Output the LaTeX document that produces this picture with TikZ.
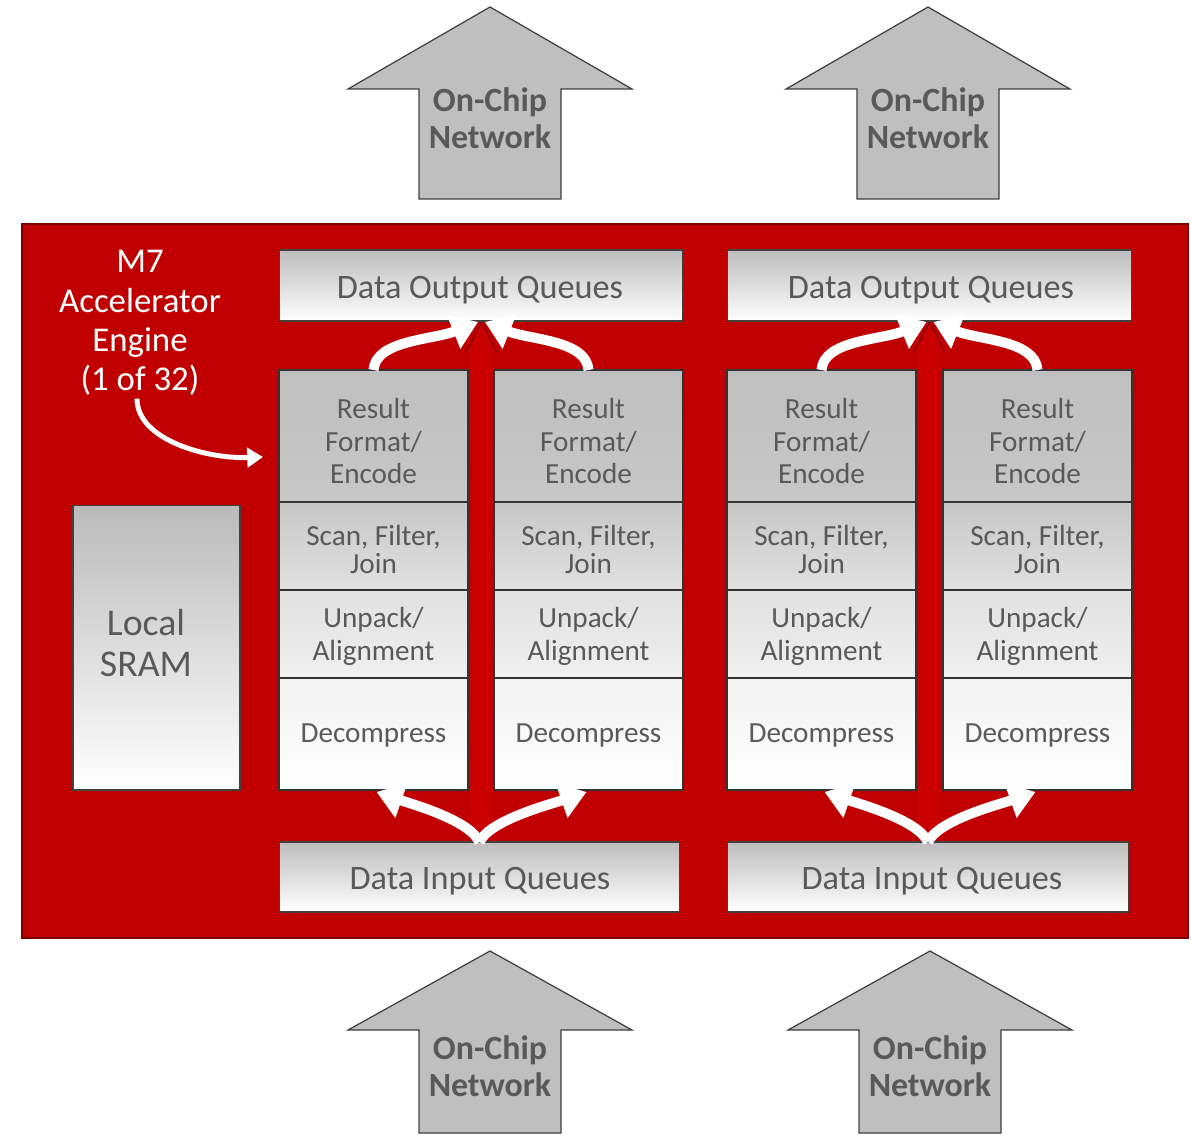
\documentclass[tikz,border=0pt]{standalone}
\usepackage{fontspec}
\setmainfont{Carlito}
\usetikzlibrary{arrows.meta,calc}
\definecolor{enginered}{HTML}{C00000}
\definecolor{engineedge}{HTML}{7A0000}
\definecolor{pathred}{HTML}{CA0000}
\definecolor{pathedge}{HTML}{8A0000}
\definecolor{labelgray}{HTML}{595959}
\definecolor{netgray}{HTML}{BFBFBF}
\definecolor{netedge}{HTML}{3F3F3F}
\begin{document}
\begin{tikzpicture}[x=0.02cm,y=-0.02cm,
  every node/.style={inner sep=0pt,outer sep=0pt,align=center,text=labelgray},
  queue/.style={draw=black!75,line width=0.6pt,minimum width=8.08cm,minimum height=1.42cm,
    top color=black!26,bottom color=white},
  queuetext/.style={font=\fontsize{19.5}{23}\selectfont},
  cell/.style={draw=black!80,line width=0.6pt,minimum width=3.78cm},
  rescell/.style={cell,minimum height=2.64cm,top color=black!25,bottom color=black!22},
  scancell/.style={cell,minimum height=1.76cm,top color=black!22,bottom color=black!12},
  unpcell/.style={cell,minimum height=1.76cm,top color=black!12,bottom color=black!6},
  deccell/.style={cell,minimum height=2.24cm,top color=black!5,bottom color=white},
  celltext/.style={font=\fontsize{16.6}{18.7}\selectfont},
  scantext/.style={font=\fontsize{16.6}{15.9}\selectfont},
  netarrow/.style={fill=netgray,draw=netedge,line width=0.7pt,line join=miter},
  nettext/.style={font=\bfseries\fontsize{19.3}{21}\selectfont,text=labelgray},
  flow/.style={white,line width=5.7pt,-{Triangle[length=15pt,width=20pt]}},
  gap/.style={fill=pathred}
]
\useasboundingbox (0,0) rectangle (1191,1135);

% engine background
\fill[white] (0,0) rectangle (1191,1135);
\draw[fill=enginered,draw=engineedge,line width=1.2pt] (22,224) rectangle (1188,938);

% on-chip network arrows (top: outgoing, bottom: incoming)
\foreach \cx/\ty/\wy/\by in {490/7/89/199, 928/7/89/199, 490/951/1030/1133, 930/951/1030/1133}{
  \draw[netarrow] (\cx-71,\by) -- (\cx-71,\wy) -- (\cx-142,\wy) -- (\cx,\ty)
     -- (\cx+142,\wy) -- (\cx+71,\wy) -- (\cx+71,\by) -- cycle;
}
\node[nettext] (netout1) at (490,118.5) {On-Chip\\Network};
\node[nettext] (netout2) at (928,118.5) {On-Chip\\Network};
\node[nettext] (netin1) at (490,1066) {On-Chip\\Network};
\node[nettext] (netin2) at (930,1066) {On-Chip\\Network};

% bypass paths between paired pipelines
\foreach \gx in {481.5,929.5}{
  \fill[gap] (\gx-12,835) -- (\gx-12,352) -- (\gx-15,352) -- (\gx,322)
     -- (\gx+15,352) -- (\gx+12,352) -- (\gx+12,835) -- cycle;
  \draw[pathedge,line width=0.8pt] (\gx-15,352) -- (\gx,322) -- (\gx+15,352);
}

% engine label
\node[text=white,font=\fontsize{19.8}{22.4}\selectfont] (title) at (140,323)
  {M7\\Accelerator\\Engine\\(1 of 32)};

% local memory
\node[draw=black!75,line width=0.6pt,minimum width=3.34cm,minimum height=5.7cm,
  top color=black!27,bottom color=white] (sram) at (156.5,647.5) {};
\node[font=\fontsize{21.5}{23.8}\selectfont] (sramtext) at (146,643) {Local\\SRAM};

% queues
\node[queue] (oq1) at (481,285.5) {};
\node[queue] (oq2) at (929.5,285.5) {};
\node[queue,minimum width=8.02cm,minimum height=1.4cm] (iq1) at (479.5,877) {};
\node[queue,minimum width=8.04cm,minimum height=1.4cm] (iq2) at (928,877) {};
\node[queuetext] (oqt1) at (480,290) {Data Output Queues};
\node[queuetext] (oqt2) at (931,290) {Data Output Queues};
\node[queuetext] (iqt1) at (480,881) {Data Input Queues};
\node[queuetext] (iqt2) at (932,881) {Data Input Queues};

% pipelines
\foreach \i/\cx in {1/373.5,2/588.5,3/821.5,4/1037.5}{
  \node[rescell] (r\i) at (\cx,436) {};
  \node[scancell] (s\i) at (\cx,546) {};
  \node[unpcell] (u\i) at (\cx,634) {};
  \node[deccell] (d\i) at (\cx,734) {};
  \node[celltext] (rt\i) at (\cx,441) {Result\\Format/\\Encode};
  \node[scantext] (st\i) at (\cx,549.5) {Scan, Filter,\\Join};
  \node[celltext] (ut\i) at (\cx,636.5) {Unpack/\\Alignment};
  \node[celltext] (dt\i) at (\cx,735) {Decompress};
}

% data flow: inputs fan out to pipelines, results merge into outputs
\draw[flow] (r1.north) .. controls +(2,-30) and +(-45,18) .. ($(oq1.south)+(-3,1)$);
\draw[flow] (r2.north) .. controls +(-2,-30) and +(45,18) .. ($(oq1.south)+(4,1)$);
\draw[flow] (r3.north) .. controls +(2,-30) and +(-45,18) .. ($(oq2.south)+(-3,1)$);
\draw[flow] (r4.north) .. controls +(-2,-30) and +(45,18) .. ($(oq2.south)+(4,1)$);

\draw[flow] (iq1.north) .. controls +(-10,-22) and +(35,12) .. ($(d1.south)+(3,2)$);
\draw[flow] (iq1.north) .. controls +(10,-22) and +(-35,12) .. ($(d2.south)+(-2,2)$);
\draw[flow] (iq2.north) .. controls +(-10,-22) and +(35,12) .. ($(d3.south)+(3,2)$);
\draw[flow] (iq2.north) .. controls +(10,-22) and +(-35,12) .. ($(d4.south)+(-2,2)$);

% pointer from the engine label to a pipeline
\draw[white,line width=2.8pt,-{Triangle[length=9pt,width=11pt]}]
  ($(title.south)+(-3,3)$) .. controls +(0,42) and +(-55,2) .. ($(r1.west)+(-16,21)$);
\end{tikzpicture}
\end{document}
